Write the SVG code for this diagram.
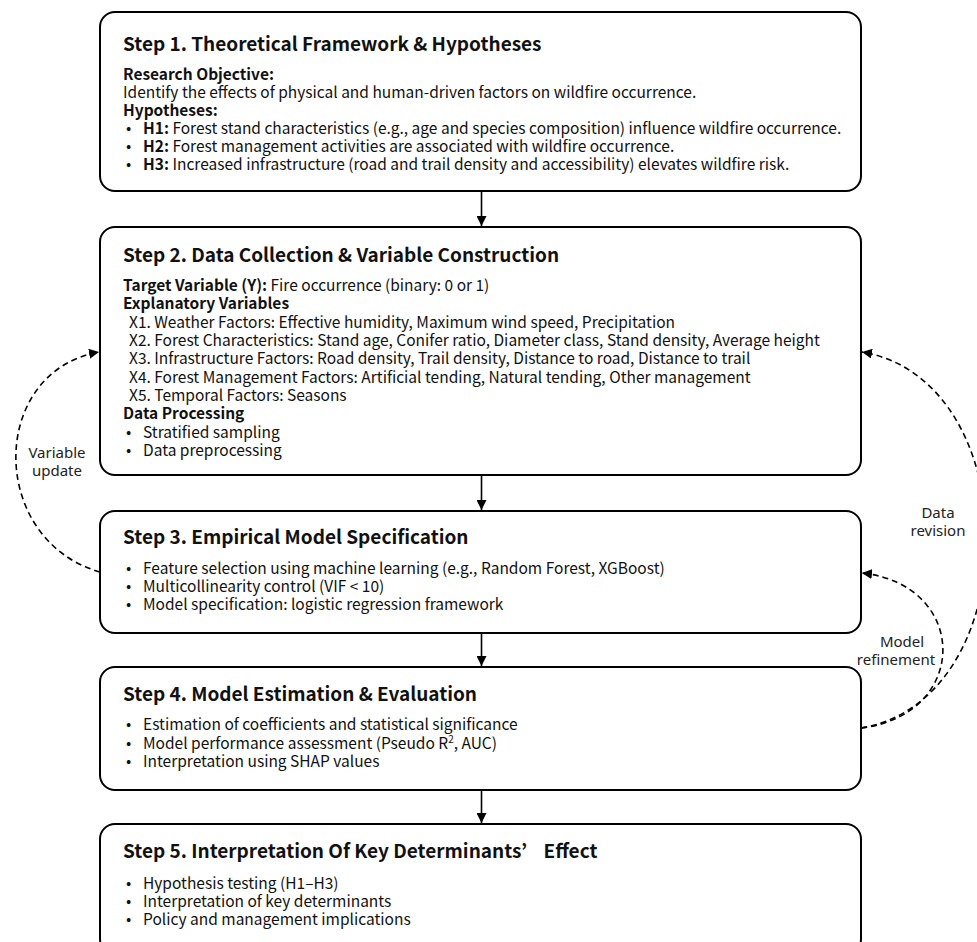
<svg xmlns="http://www.w3.org/2000/svg" width="977" height="942" viewBox="0 0 977 942">
<defs>
<style>
.box{fill:#fff;stroke:#000;stroke-width:2}
.t{font-family:"Noto Sans CJK KR","Noto Sans CJK SC",sans-serif;fill:#111}
.title{font-size:19px;font-weight:700}
.b{font-size:15.5px}
.bd{font-weight:700}
.lbl{font-family:"Noto Sans","Open Sans",sans-serif;font-size:15px;fill:#222;text-anchor:middle}
.arr{stroke:#000;stroke-width:1.6;fill:none}
.dash{stroke:#000;stroke-width:1.6;fill:none;stroke-dasharray:6 4}
</style>
<marker id="ah" viewBox="0 0 10 10" refX="10" refY="5" markerWidth="10" markerHeight="10" markerUnits="userSpaceOnUse" orient="auto">
<path d="M0,0 L10,5 L0,10 z" fill="#000"/>
</marker>
</defs>
<rect width="977" height="942" fill="#fff"/>

<g id="step1">
<rect class="box" x="100" y="12" width="761" height="179" rx="15"/>
<text class="t title" x="123" y="51">Step 1. Theoretical Framework &amp; Hypotheses</text>
<text class="t b bd" x="123" y="80">Research Objective:</text>
<text class="t b" x="123" y="98">Identify the effects of physical and human-driven factors on wildfire occurrence.</text>
<text class="t b bd" x="123" y="116">Hypotheses:</text>
<text class="t b" y="134"><tspan x="126">•</tspan><tspan x="143" class="bd">H1:</tspan> Forest stand characteristics (e.g., age and species composition) influence wildfire occurrence.</text>
<text class="t b" y="152"><tspan x="126">•</tspan><tspan x="143" class="bd">H2:</tspan> Forest management activities are associated with wildfire occurrence.</text>
<text class="t b" y="170"><tspan x="126">•</tspan><tspan x="143" class="bd">H3:</tspan> Increased infrastructure (road and trail density and accessibility) elevates wildfire risk.</text>
</g>

<g id="step2">
<rect class="box" x="100" y="227" width="761" height="248" rx="15"/>
<text class="t title" x="123" y="262">Step 2. Data Collection &amp; Variable Construction</text>
<text class="t b" x="123" y="291"><tspan class="bd">Target Variable (Y):</tspan> Fire occurrence (binary: 0 or 1)</text>
<text class="t b bd" x="123" y="309">Explanatory Variables</text>
<text class="t b" x="129" y="328">X1. Weather Factors: Effective humidity, Maximum wind speed, Precipitation</text>
<text class="t b" x="129" y="346">X2. Forest Characteristics: Stand age, Conifer ratio, Diameter class, Stand density, Average height</text>
<text class="t b" x="129" y="364">X3. Infrastructure Factors: Road density, Trail density, Distance to road, Distance to trail</text>
<text class="t b" x="129" y="383">X4. Forest Management Factors: Artificial tending, Natural tending, Other management</text>
<text class="t b" x="129" y="401">X5. Temporal Factors: Seasons</text>
<text class="t b bd" x="123" y="419">Data Processing</text>
<text class="t b" y="438"><tspan x="126">•</tspan><tspan x="143">Stratified sampling</tspan></text>
<text class="t b" y="456"><tspan x="126">•</tspan><tspan x="143">Data preprocessing</tspan></text>
</g>

<g id="step3">
<rect class="box" x="100" y="511" width="761" height="122" rx="15"/>
<text class="t title" x="123" y="544">Step 3. Empirical Model Specification</text>
<text class="t b" y="574"><tspan x="126">•</tspan><tspan x="143">Feature selection using machine learning (e.g., Random Forest, XGBoost)</tspan></text>
<text class="t b" y="592"><tspan x="126">•</tspan><tspan x="143">Multicollinearity control (VIF &lt; 10)</tspan></text>
<text class="t b" y="610"><tspan x="126">•</tspan><tspan x="143">Model specification: logistic regression framework</tspan></text>
</g>

<g id="step4">
<rect class="box" x="100" y="667" width="761" height="123" rx="15"/>
<text class="t title" x="123" y="701">Step 4. Model Estimation &amp; Evaluation</text>
<text class="t b" y="730"><tspan x="126">•</tspan><tspan x="143">Estimation of coefficients and statistical significance</tspan></text>
<text class="t b" y="749"><tspan x="126">•</tspan><tspan x="143">Model performance assessment (Pseudo R</tspan><tspan font-size="10" dy="-6">2</tspan><tspan dy="6">, AUC)</tspan></text>
<text class="t b" y="767"><tspan x="126">•</tspan><tspan x="143">Interpretation using SHAP values</tspan></text>
</g>

<g id="step5">
<rect class="box" x="100" y="824" width="761" height="130" rx="15"/>
<text class="t title" x="123" y="858">Step 5. Interpretation Of Key Determinants’<tspan dx="12"> Effect</tspan></text>
<text class="t b" y="889"><tspan x="126">•</tspan><tspan x="143">Hypothesis testing (H1–H3)</tspan></text>
<text class="t b" y="907"><tspan x="126">•</tspan><tspan x="143">Interpretation of key determinants</tspan></text>
<text class="t b" y="925"><tspan x="126">•</tspan><tspan x="143">Policy and management implications</tspan></text>
</g>

<g id="connectors">
<line class="arr" x1="481.5" y1="191" x2="481.5" y2="226" marker-end="url(#ah)"/>
<line class="arr" x1="481.5" y1="475" x2="481.5" y2="510" marker-end="url(#ah)"/>
<line class="arr" x1="481.5" y1="633" x2="481.5" y2="666" marker-end="url(#ah)"/>
<line class="arr" x1="481.5" y1="790" x2="481.5" y2="823" marker-end="url(#ah)"/>
<path class="dash" d="M100,572 C-12,540 -12,372 99,352" marker-end="url(#ah)"/>
<path class="dash" d="M861,728 C1028,700 1028,380 862,352" marker-end="url(#ah)"/>
<path class="dash" d="M861,728 C970,715 970,585 862,573" marker-end="url(#ah)"/>
<text class="lbl" x="57" y="458">Variable</text>
<text class="lbl" x="57" y="476">update</text>
<text class="lbl" x="938" y="518">Data</text>
<text class="lbl" x="938" y="536">revision</text>
<text class="lbl" x="902" y="647">Model</text>
<text class="lbl" x="896" y="665">refinement</text>
</g>
</svg>
